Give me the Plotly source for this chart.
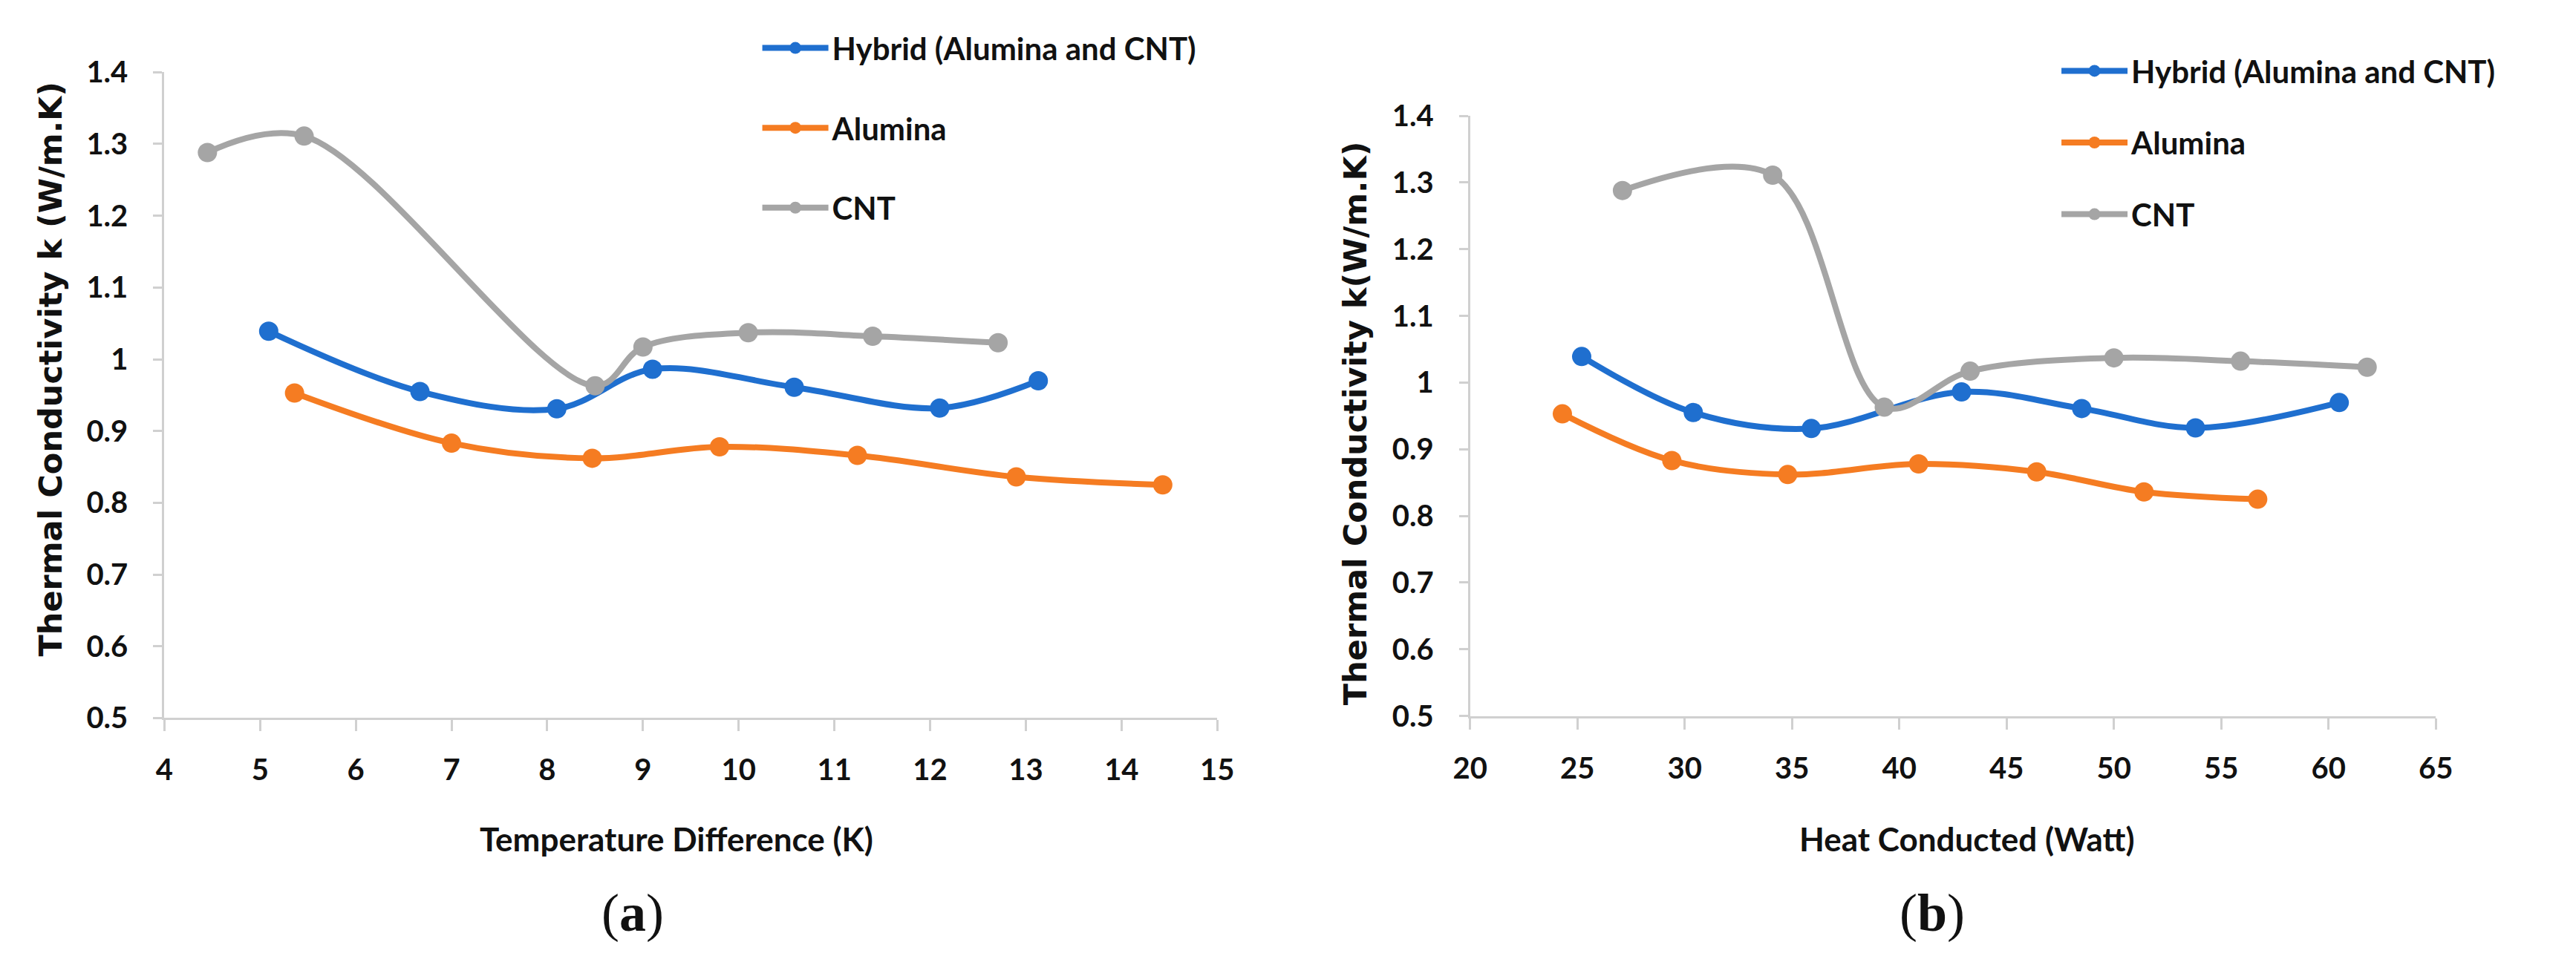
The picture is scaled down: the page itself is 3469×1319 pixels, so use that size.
import plotly.graph_objects as go

W, H = 3469, 1319

# ---------------- data ----------------
series_names = ["Hybrid (Alumina and CNT)", "Alumina", "CNT"]

# (a) Temperature Difference (K)
a_hybrid_x = [5.09, 6.67, 8.10, 9.10, 10.58, 12.10, 13.13]
a_hybrid_k = [1.039, 0.955, 0.931, 0.986, 0.961, 0.932, 0.970]
a_alumina_x = [5.36, 7.00, 8.47, 9.80, 11.24, 12.90, 14.43]
a_alumina_k = [0.953, 0.883, 0.862, 0.878, 0.866, 0.836, 0.825]
a_cnt_x = [4.45, 5.46, 8.50, 9.00, 10.10, 11.40, 12.71]
a_cnt_k = [1.288, 1.311, 0.963, 1.017, 1.037, 1.032, 1.023]

# (b) Heat Conducted (Watt)
b_hybrid_x = [25.2, 30.4, 35.9, 42.9, 48.5, 53.8, 60.5]
b_hybrid_k = [1.039, 0.955, 0.931, 0.986, 0.961, 0.932, 0.970]
b_alumina_x = [24.3, 29.4, 34.8, 40.9, 46.4, 51.4, 56.7]
b_alumina_k = [0.953, 0.883, 0.862, 0.878, 0.866, 0.836, 0.825]
b_cnt_x = [27.1, 34.1, 39.3, 43.3, 50.0, 55.9, 61.8]
b_cnt_k = [1.288, 1.311, 0.963, 1.017, 1.037, 1.032, 1.023]

y_tickvals = [0.5, 0.6, 0.7, 0.8, 0.9, 1.0, 1.1, 1.2, 1.3, 1.4]
y_ticktext = ["0.5", "0.6", "0.7", "0.8", "0.9", "1", "1.1", "1.2", "1.3", "1.4"]
a_xticks = [4, 5, 6, 7, 8, 9, 10, 11, 12, 13, 14, 15]
b_xticks = [20, 25, 30, 35, 40, 45, 50, 55, 60, 65]

colors = ["#1F6FCF", "#F57C22", "#A5A5A5"]


def px_x(p):
    return p / W


def px_y(p):
    return 1 - p / H


fig = go.Figure()

a_sets = [(a_hybrid_x, a_hybrid_k), (a_alumina_x, a_alumina_k), (a_cnt_x, a_cnt_k)]
b_sets = [(b_hybrid_x, b_hybrid_k), (b_alumina_x, b_alumina_k), (b_cnt_x, b_cnt_k)]

for i, (xs, ks) in enumerate(a_sets):
    fig.add_trace(go.Scatter(
        x=xs, y=ks, name=series_names[i], mode="lines+markers",
        line=dict(color=colors[i], width=8, shape="spline", smoothing=1),
        marker=dict(color=colors[i], size=26),
        xaxis="x", yaxis="y", legend="legend", legendgroup="a%d" % i,
    ))
for i, (xs, ks) in enumerate(b_sets):
    fig.add_trace(go.Scatter(
        x=xs, y=ks, name=series_names[i], mode="lines+markers",
        line=dict(color=colors[i], width=8, shape="spline", smoothing=1),
        marker=dict(color=colors[i], size=26),
        xaxis="x2", yaxis="y2", legend="legend2", legendgroup="b%d" % i,
    ))


def tick_font():
    return dict(family="Lato", size=40, color="#111111", weight=700)


def axis_common():
    return dict(
        showline=True, linecolor="#D0D0D0", linewidth=3,
        ticks="outside", tickcolor="#D0D0D0", tickwidth=3,
        showgrid=False, zeroline=False, tickfont=tick_font(),
        fixedrange=True,
    )


fig.update_layout(
    width=W, height=H,
    margin=dict(l=0, r=0, t=0, b=0),
    paper_bgcolor="white", plot_bgcolor="white",
    xaxis=dict(domain=[px_x(201), px_x(1638)], range=[4, 15],
               tickvals=a_xticks, ticklen=15, ticklabelstandoff=18,
               anchor="y", **axis_common()),
    yaxis=dict(domain=[px_y(978), px_y(75)], range=[0.5, 1.4],
               tickvals=y_tickvals, ticktext=y_ticktext, ticklen=12,
               ticklabelstandoff=26, anchor="x", **axis_common()),
    xaxis2=dict(domain=[px_x(1983), px_x(3301)], range=[20, 65],
                tickvals=b_xticks, ticklen=15, ticklabelstandoff=18,
                anchor="y2", **axis_common()),
    yaxis2=dict(domain=[px_y(975), px_y(136)], range=[0.5, 1.4],
                tickvals=y_tickvals, ticktext=y_ticktext, ticklen=12,
                ticklabelstandoff=26, anchor="x2", **axis_common()),
    legend=dict(x=px_x(1012), y=px_y(6), xanchor="left", yanchor="top",
                font=dict(family="Lato", size=42, color="#111111", weight=700),
                itemwidth=89, tracegroupgap=50, bgcolor="rgba(0,0,0,0)"),
    legend2=dict(x=px_x(2785), y=px_y(38), xanchor="left", yanchor="top",
                 font=dict(family="Lato", size=42, color="#111111", weight=700),
                 itemwidth=89, tracegroupgap=39, bgcolor="rgba(0,0,0,0)"),
    showlegend=True,
)


def ytitle_font():
    return dict(family="DejaVu Sans", size=43, color="#111111")


def xtitle_font():
    return dict(family="Lato", size=44, color="#111111")


def label_font():
    return dict(family="Liberation Serif", size=72, color="#111111")


annotations = [
    dict(text="<b>Thermal Conductivity k (W/m.K)</b>", x=px_x(46), y=px_y(490),
         textangle=-90, font=ytitle_font()),
    dict(text="<b>Thermal Conductivity k(W/m.K)</b>", x=px_x(1827), y=px_y(566),
         textangle=-90, font=ytitle_font()),
    dict(text="<b>Temperature Difference (K)</b>", x=px_x(900), y=px_y(1147),
         font=xtitle_font()),
    dict(text="<b>Heat Conducted (Watt)</b>", x=px_x(2661), y=px_y(1147),
         font=xtitle_font()),
    dict(text="(<b>a</b>)", x=px_x(840), y=px_y(1250), font=label_font()),
    dict(text="(<b>b</b>)", x=px_x(2614), y=px_y(1250), font=label_font()),
]
for a in annotations:
    a.update(xref="paper", yref="paper", showarrow=False,
             xanchor="center", yanchor="middle")
fig.update_layout(annotations=annotations)

fig.write_html("out.html", config={"displayModeBar": False},
               post_script="document.body.style.margin='0px';")
